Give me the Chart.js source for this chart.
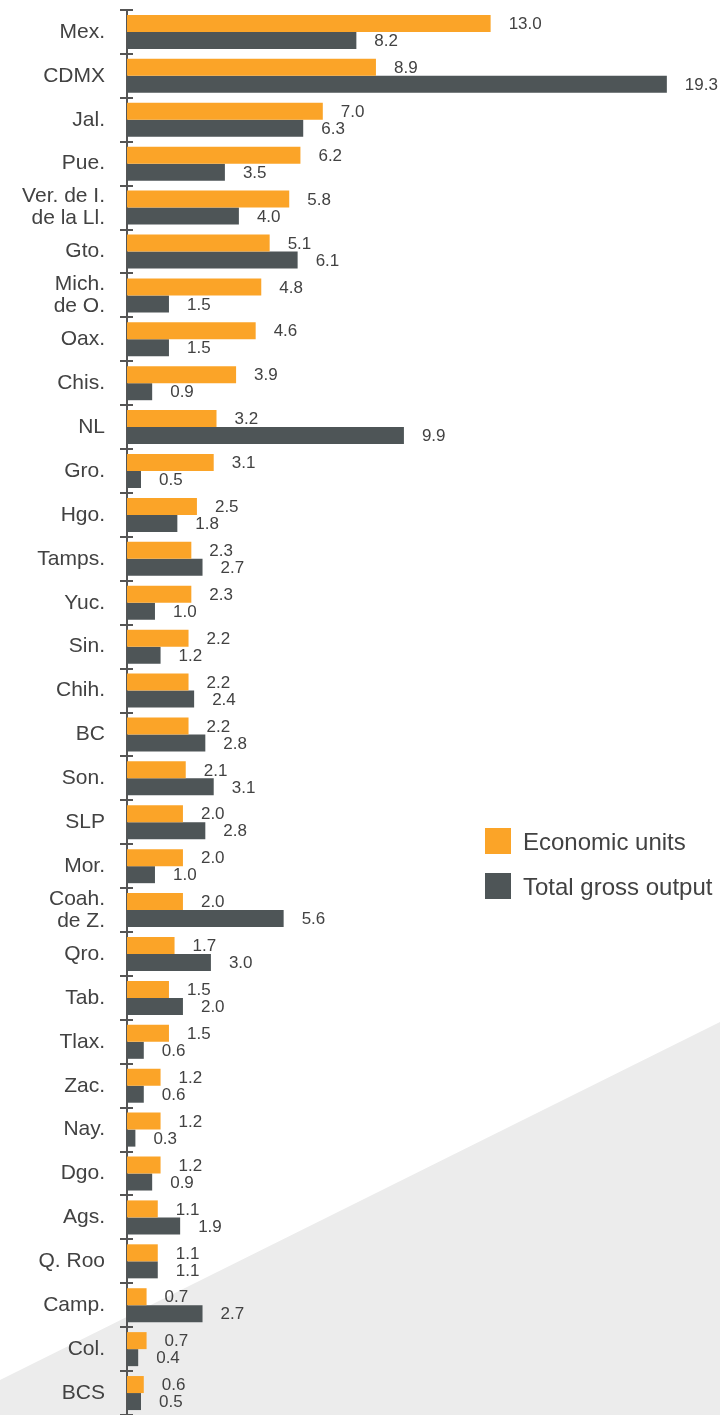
<!DOCTYPE html>
<html>
<head>
<meta charset="utf-8">
<script src="https://cdn.jsdelivr.net/npm/chart.js@4/dist/chart.umd.min.js"></script>
<style>
  html, body { margin: 0; padding: 0; background: #fff; }
  #wrap { width: 720px; height: 1415px; }
</style>
</head>
<body>
<div id="wrap"><canvas id="stateChart"></canvas></div>
<script>
// States, ordered by share of economic units (%)
const states = [
    'Mex.', 'CDMX', 'Jal.', 'Pue.', ['Ver. de I.', 'de la Ll.'], 'Gto.', ['Mich.', 'de O.'], 'Oax.',
    'Chis.', 'NL', 'Gro.', 'Hgo.', 'Tamps.', 'Yuc.', 'Sin.', 'Chih.',
    'BC', 'Son.', 'SLP', 'Mor.', ['Coah.', 'de Z.'], 'Qro.', 'Tab.', 'Tlax.',
    'Zac.', 'Nay.', 'Dgo.', 'Ags.', 'Q. Roo', 'Camp.', 'Col.', 'BCS'
];
const economicUnits = [
    13.0, 8.9, 7.0, 6.2, 5.8, 5.1, 4.8, 4.6,
    3.9, 3.2, 3.1, 2.5, 2.3, 2.3, 2.2, 2.2,
    2.2, 2.1, 2.0, 2.0, 2.0, 1.7, 1.5, 1.5,
    1.2, 1.2, 1.2, 1.1, 1.1, 0.7, 0.7, 0.6
];
const grossOutput = [
    8.2, 19.3, 6.3, 3.5, 4.0, 6.1, 1.5, 1.5,
    0.9, 9.9, 0.5, 1.8, 2.7, 1.0, 1.2, 2.4,
    2.8, 3.1, 2.8, 1.0, 5.6, 3.0, 2.0, 0.6,
    0.6, 0.3, 0.9, 1.9, 1.1, 2.7, 0.4, 0.5
];

const ORANGE = '#fba428';
const GREY = '#4e5557';
const TEXT = '#424242';
const FONT = '"Liberation Sans", Arial, sans-serif';

// grey diagonal panel behind the chart
const backdrop = {
    id: 'backdrop',
    beforeDraw(chart) {
        const { ctx, width, height } = chart;
        ctx.save();
        ctx.fillStyle = '#ececec';
        ctx.beginPath();
        ctx.moveTo(0, height - 35);
        ctx.lineTo(width, height - 393);
        ctx.lineTo(width, height);
        ctx.lineTo(0, height);
        ctx.closePath();
        ctx.fill();
        ctx.restore();
    }
};

// tick marks crossing the category axis at band edges
const axisTicks = {
    id: 'axisTicks',
    afterDraw(chart) {
        const { ctx } = chart;
        const y = chart.scales.y;
        const n = chart.data.labels.length;
        const band = (y.bottom - y.top) / n;
        ctx.save();
        ctx.strokeStyle = '#555';
        ctx.lineWidth = 2;
        for (let i = 0; i <= n; i++) {
            const py = Math.round(y.top + i * band);
            ctx.beginPath();
            ctx.moveTo(y.right - 7, py);
            ctx.lineTo(y.right + 6, py);
            ctx.stroke();
        }
        ctx.restore();
    }
};

// value labels to the right of each bar
const valueLabels = {
    id: 'valueLabels',
    afterDatasetsDraw(chart) {
        const { ctx } = chart;
        ctx.save();
        ctx.font = '17px ' + FONT;
        ctx.fillStyle = TEXT;
        ctx.textAlign = 'left';
        ctx.textBaseline = 'middle';
        chart.data.datasets.forEach((ds, di) => {
            chart.getDatasetMeta(di).data.forEach((bar, i) => {
                ctx.fillText(ds.data[i].toFixed(1), bar.x + 18, bar.y + 1);
            });
        });
        ctx.restore();
    }
};

// legend on the right side, mid height
const sideLegend = {
    id: 'sideLegend',
    afterDraw(chart) {
        const { ctx } = chart;
        ctx.save();
        ctx.font = '24px ' + FONT;
        ctx.textBaseline = 'middle';
        chart.data.datasets.forEach((ds, i) => {
            const top = 828 + i * 45;
            ctx.fillStyle = ds.backgroundColor;
            ctx.fillRect(485, top, 26, 26);
            ctx.fillStyle = TEXT;
            ctx.fillText(ds.label, 523, top + 15);
        });
        ctx.restore();
    }
};

new Chart(document.getElementById('stateChart'), {
    type: 'bar',
    data: {
        labels: states,
        datasets: [
            {
                label: 'Economic units',
                data: economicUnits,
                backgroundColor: ORANGE,
                borderWidth: 0,
                categoryPercentage: 0.775,
                barPercentage: 1.0
            },
            {
                label: 'Total gross output',
                data: grossOutput,
                backgroundColor: GREY,
                borderWidth: 0,
                categoryPercentage: 0.775,
                barPercentage: 1.0
            }
        ]
    },
    options: {
        indexAxis: 'y',
        responsive: true,
        maintainAspectRatio: false,
        animation: false,
        layout: { padding: { top: 10, right: 0, bottom: 0, left: 0 } },
        plugins: {
            legend: { display: false },
            tooltip: { enabled: false }
        },
        scales: {
            x: {
                display: false,
                min: 0,
                max: 21.2
            },
            y: {
                grid: { display: false },
                border: { display: true, color: '#555', width: 2 },
                ticks: {
                    color: TEXT,
                    padding: 14,
                    autoSkip: false,
                    font: { family: FONT, size: 21, lineHeight: 1.05 }
                },
                afterFit(scale) {
                    scale.width = 127;
                    scale.paddingTop = 0;
                    scale.paddingBottom = 0;
                }
            }
        }
    },
    plugins: [backdrop, axisTicks, valueLabels, sideLegend]
});
</script>
</body>
</html>
